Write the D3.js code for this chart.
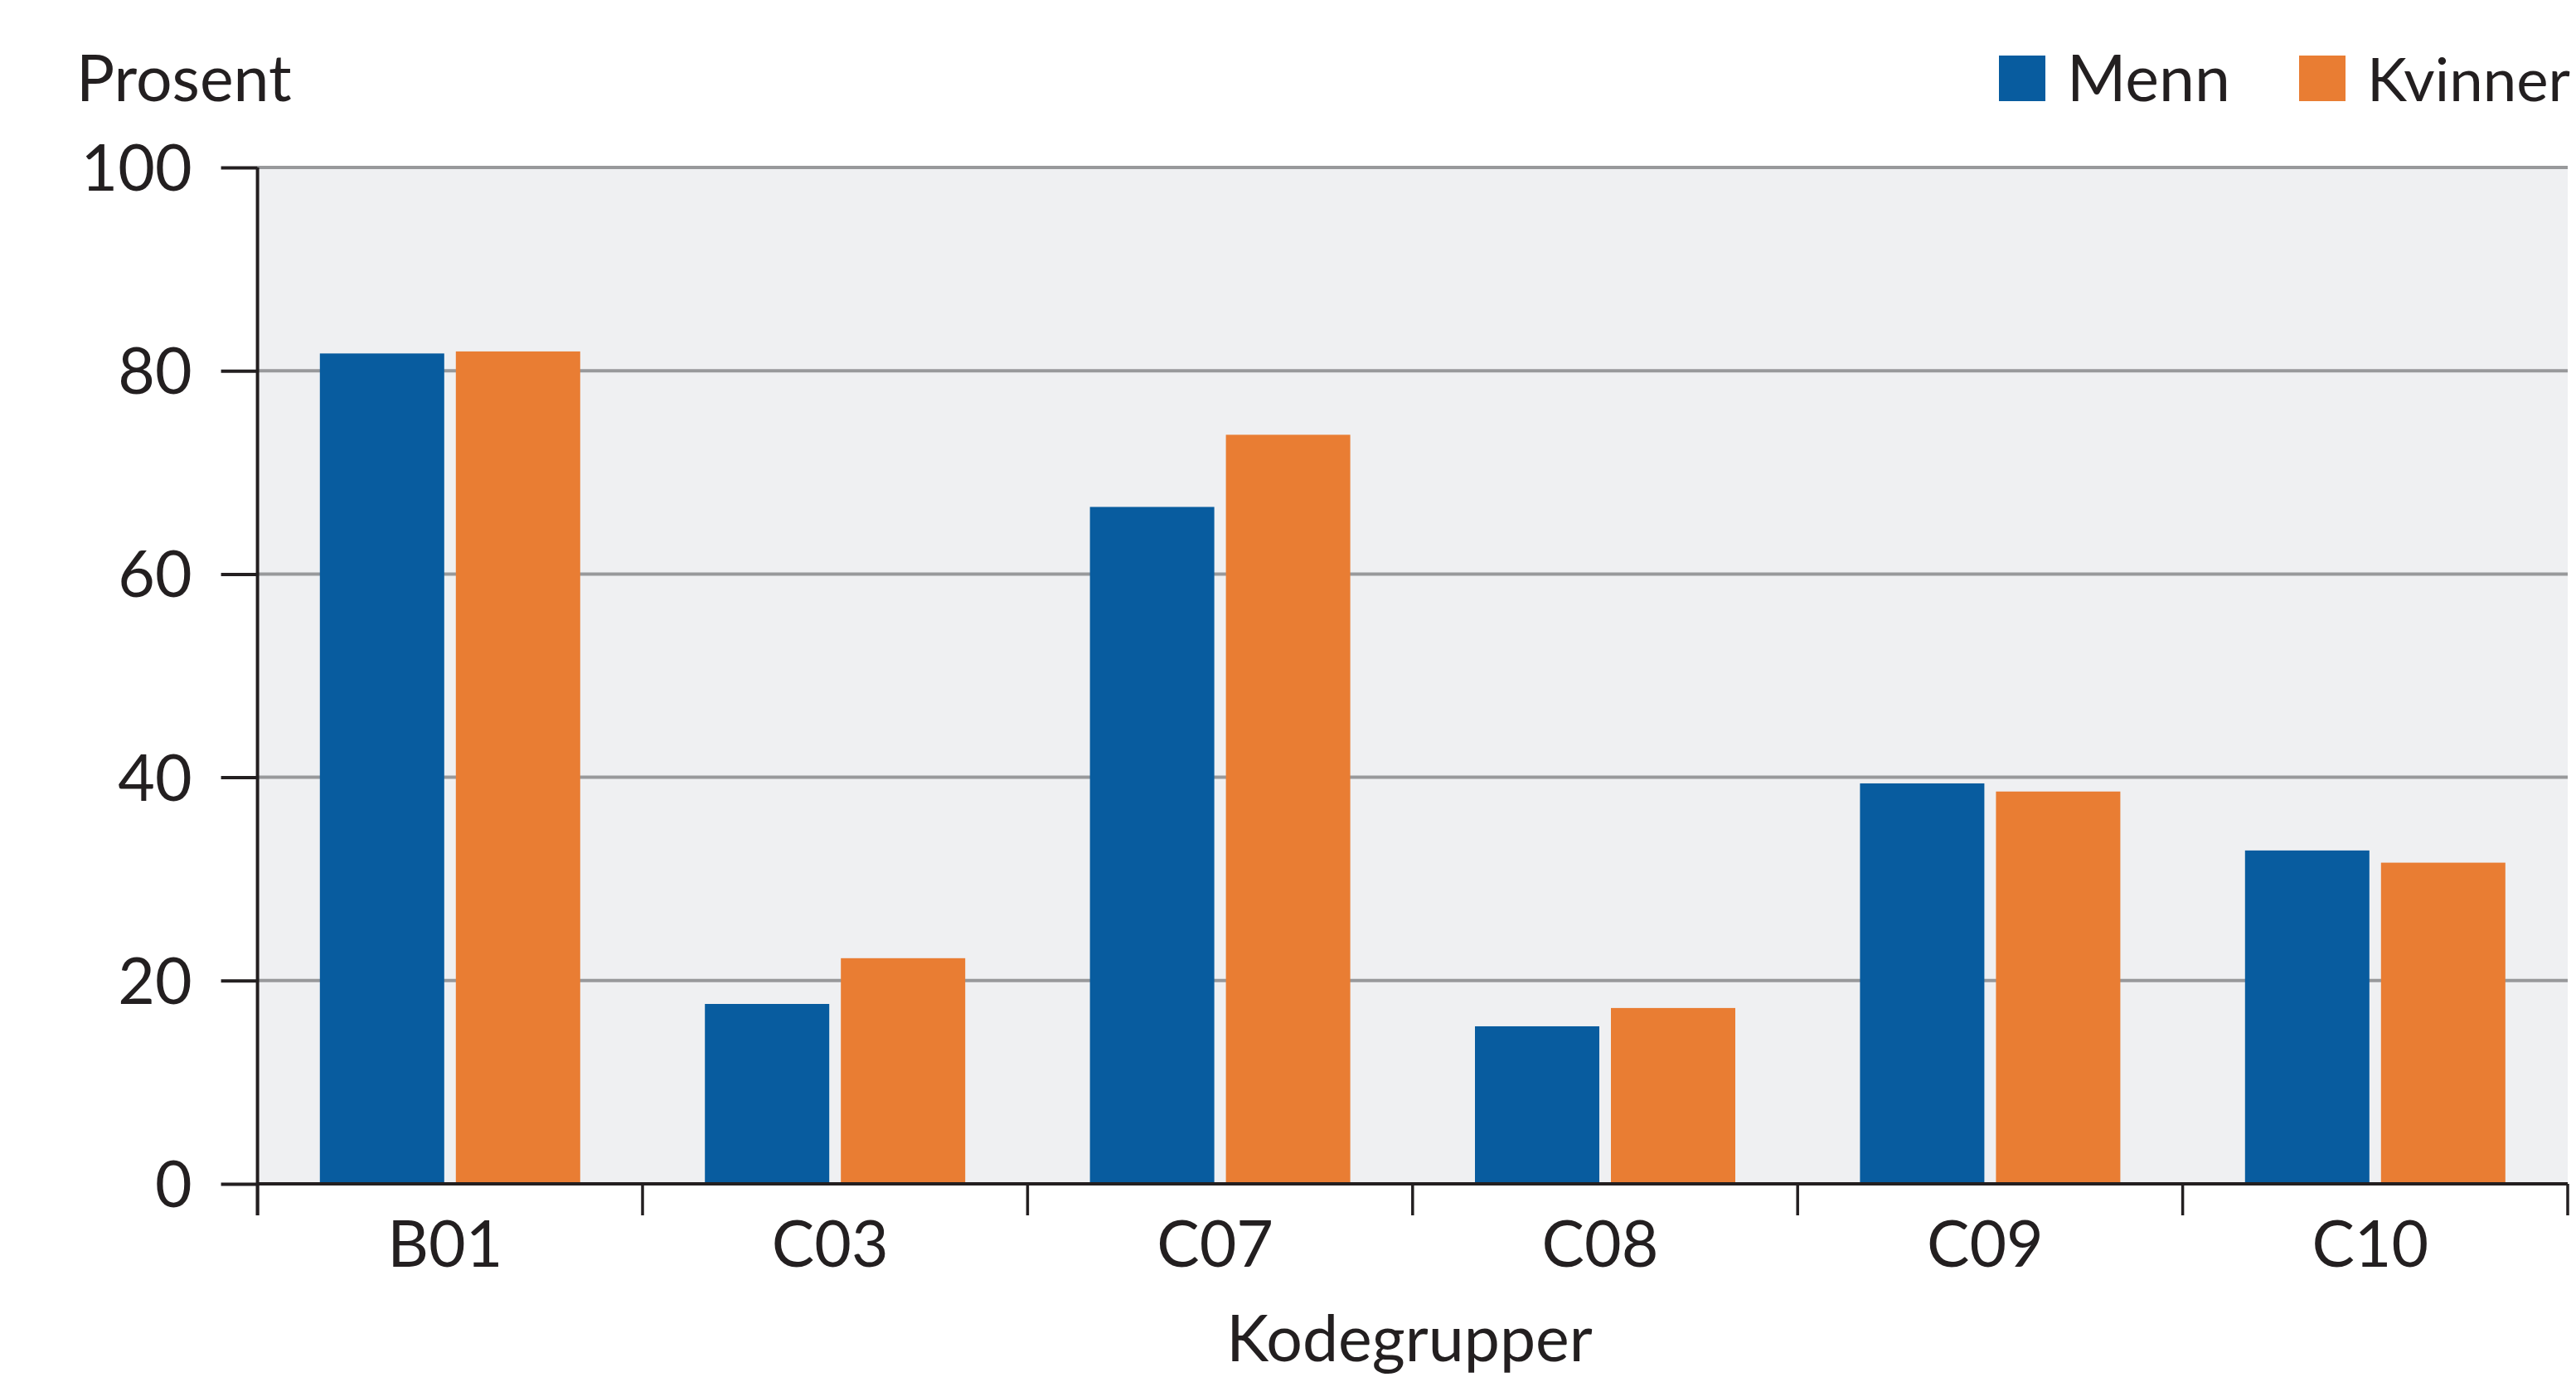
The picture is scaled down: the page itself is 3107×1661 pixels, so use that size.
<!DOCTYPE html>
<html>
<head>
<meta charset="utf-8">
<script src="https://cdn.jsdelivr.net/npm/d3@7/dist/d3.min.js"></script>
<style>
  html, body { margin: 0; padding: 0; background: #ffffff; }
  svg { display: block; }
  text { font-family: Lato, "Open Sans", sans-serif; fill: #231f20; }
</style>
</head>
<body>
<svg id="chart" width="3107" height="1661"></svg>
<script>
// ---- Data ----
const categories = ["B01", "C03", "C07", "C08", "C09", "C10"];
const seriesNames = ["Menn", "Kvinner"];
const menn = [81.7, 17.7, 66.6, 15.5, 39.4, 32.8];
const kvinner = [81.9, 22.2, 73.7, 17.3, 38.6, 31.6];
const yTicks = [0, 20, 40, 60, 80, 100];
const colors = ["#085c9f", "#e97d33"];

(function () {
const svg = d3.select("#chart");
const pLeft = 310.6, pRight = 3097, pTop = 202, pBottom = 1428;
const fontSize = 77;

const x0 = d3.scaleBand().domain(categories).range([pLeft, pRight]).paddingInner(0).paddingOuter(0);
const bw = x0.bandwidth();
const x1 = d3.scaleBand().domain(seriesNames).range([75.2, bw - 75.2]).paddingInner(0.0854).paddingOuter(0);
const y = d3.scaleLinear().domain([0, 100]).range([pBottom, pTop]);

// background
svg.append("rect").attr("x", pLeft).attr("y", pTop).attr("width", pRight - pLeft).attr("height", pBottom - pTop)
  .attr("fill", "#eff0f2");

// gridlines
svg.append("g").selectAll("line").data(yTicks.filter(d => d > 0)).join("line")
  .attr("x1", pLeft).attr("x2", pRight)
  .attr("y1", d => y(d)).attr("y2", d => y(d))
  .attr("stroke", "#98999b").attr("stroke-width", 4);

// bars
const data = categories.map((c, i) => ({ cat: c, vals: [menn[i], kvinner[i]] }));
const groups = svg.append("g").selectAll("g").data(data).join("g")
  .attr("transform", d => `translate(${x0(d.cat)},0)`);
groups.selectAll("rect").data(d => d.vals.map((v, j) => ({ name: seriesNames[j], v, j }))).join("rect")
  .attr("x", d => x1(d.name))
  .attr("width", x1.bandwidth())
  .attr("y", d => y(d.v))
  .attr("height", d => y(0) - y(d.v))
  .attr("fill", d => colors[d.j]);

// y axis
const yAxis = d3.axisLeft(y).tickValues(yTicks).tickSize(44).tickPadding(35).tickFormat(d3.format("d"));
const gy = svg.append("g").attr("transform", `translate(${pLeft},0)`).call(yAxis);
gy.select(".domain").remove();
gy.selectAll(".tick line").attr("stroke", "#231f20").attr("stroke-width", 4);
gy.selectAll(".tick text").attr("font-size", fontSize).attr("font-family", "Lato, 'Open Sans', sans-serif")
  .attr("fill", "#231f20").attr("dy", null).attr("y", 27.5);

// y axis vertical line
svg.append("line").attr("x1", pLeft).attr("x2", pLeft).attr("y1", pTop).attr("y2", pBottom + 38)
  .attr("stroke", "#231f20").attr("stroke-width", 4);

// x axis baseline
svg.append("line").attr("x1", pLeft).attr("x2", pRight).attr("y1", pBottom).attr("y2", pBottom)
  .attr("stroke", "#231f20").attr("stroke-width", 4);

// x axis ticks at band boundaries
const boundaries = categories.map(c => x0(c)).concat([pRight]);
svg.append("g").selectAll("line").data(boundaries).join("line")
  .attr("x1", d => d).attr("x2", d => d).attr("y1", pBottom).attr("y2", pBottom + 38)
  .attr("stroke", "#231f20").attr("stroke-width", 3.5);

// x labels
svg.append("g").selectAll("text").data(categories).join("text")
  .attr("x", d => x0(d) + bw / 2 - 6)
  .attr("y", 1528)
  .attr("text-anchor", "middle")
  .attr("font-size", fontSize)
  .text(d => d);

// axis titles
svg.append("text").attr("x", 92).attr("y", 122).attr("font-size", fontSize).text("Prosent");
svg.append("text").attr("x", 1700).attr("y", 1642).attr("text-anchor", "middle").attr("font-size", fontSize).text("Kodegrupper");

// legend
const legendX = [2411, 2773];
const leg = svg.append("g").selectAll("g").data(seriesNames).join("g");
leg.append("rect").attr("x", (d, i) => legendX[i]).attr("y", 67).attr("width", 56).attr("height", 55)
  .attr("fill", (d, i) => colors[i]);
leg.append("text").attr("x", (d, i) => legendX[i] + 82).attr("y", 122).attr("font-size", fontSize).text(d => d)
  .each(function () {
    // keep legend text inside the right edge
    const el = d3.select(this);
    const x = +el.attr("x");
    const w = this.getComputedTextLength();
    const maxRight = 3100;
    if (x + w > maxRight) {
      el.attr("font-size", fontSize * (maxRight - x) / w);
    }
  });
})();
</script>
</body>
</html>
